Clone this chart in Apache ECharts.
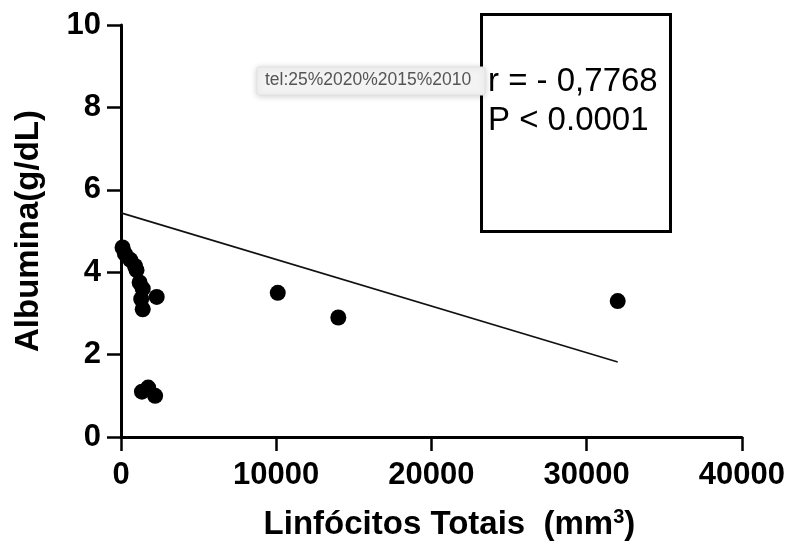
<!DOCTYPE html>
<html>
<head>
<meta charset="utf-8">
<script src="https://cdn.jsdelivr.net/npm/echarts@6/dist/echarts.min.js"></script>
<style>html,body{margin:0;padding:0;background:#fff}#c{width:788px;height:550px}</style>
</head>
<body>
<div id="c"></div>
<script>
// Data
var linfocitos = [100, 250, 600, 900, 1000, 1200, 1400, 2300, 1300, 1400, 1350, 1750, 2200, 10100, 14000, 32000];
var albumina   = [4.6, 4.45, 4.3, 4.15, 4.05, 3.75, 3.6, 3.4, 3.35, 3.1, 1.1, 1.2, 1.0, 3.5, 2.9, 3.3];
var fitX = [0, 32000];
var fitY = [5.44, 1.82];
var xTicks = [0, 10000, 20000, 30000, 40000];
var yTicks = [0, 2, 4, 6, 8, 10];
var statLines = ['r = - 0,7768', 'P < 0.0001'];
var popupText = 'tel:25%2020%2015%2010';

var FONT = "'Liberation Sans', Arial, Helvetica, sans-serif";
var chart = echarts.init(document.getElementById('c'), null, {renderer: 'canvas'});

var points = linfocitos.map(function (x, i) { return [x, albumina[i]]; });
var fit = fitX.map(function (x, i) { return [x, fitY[i]]; });

var axisCommon = {
  axisLine: {show: true, lineStyle: {color: '#000', width: 3}},
  axisTick: {show: true, length: 14, lineStyle: {color: '#000', width: 2.5}},
  splitLine: {show: false},
  axisLabel: {color: '#000', fontFamily: FONT, fontWeight: 'bold', fontSize: 31,
    formatter: function (v) { return String(v); }}
};

chart.setOption({
  animation: false,
  backgroundColor: '#fff',
  grid: {left: 121, right: 46, top: 25, bottom: 113, containLabel: false},
  xAxis: Object.assign({}, axisCommon, {
    type: 'value', min: xTicks[0], max: xTicks[xTicks.length - 1], interval: xTicks[1] - xTicks[0],
    axisLabel: Object.assign({}, axisCommon.axisLabel, {margin: 23}),
    name: 'Linfócitos Totais  (mm{sup|3})',
    nameLocation: 'middle', nameGap: 70,
    nameTextStyle: {
      color: '#000', fontFamily: FONT, fontWeight: 'bold', fontSize: 33,
      padding: [0, 0, 0, 36],
      rich: {sup: {fontSize: 20, fontWeight: 'bold', fontFamily: FONT, color: '#000', verticalAlign: 'top', padding: [0, 0, 16, 0]}}
    }
  }),
  yAxis: Object.assign({}, axisCommon, {
    type: 'value', min: yTicks[0], max: yTicks[yTicks.length - 1], interval: yTicks[1] - yTicks[0],
    axisLabel: Object.assign({}, axisCommon.axisLabel, {margin: 20}),
    name: 'Albumina(g/dL)',
    nameLocation: 'middle', nameGap: 76, nameRotate: 90,
    nameTextStyle: {color: '#000', fontFamily: FONT, fontWeight: 'bold', fontSize: 33}
  }),
  series: [
    {
      type: 'line', data: fit, symbol: 'none', silent: true,
      lineStyle: {color: '#111', width: 1.6}, z: 2
    },
    {
      type: 'scatter', data: points, symbol: 'circle', symbolSize: 16,
      itemStyle: {color: '#000', opacity: 1}, z: 3
    }
  ],
  graphic: [
    {
      type: 'rect', z: 10,
      shape: {x: 481.5, y: 14.5, width: 189, height: 217},
      style: {fill: '#fff', stroke: '#000', lineWidth: 3}
    },
    {
      type: 'text', z: 11, left: 488, top: 65,
      style: {text: statLines[0], fill: '#000', font: '33px ' + FONT}
    },
    {
      type: 'text', z: 11, left: 488, top: 104,
      style: {text: statLines[1], fill: '#000', font: '33px ' + FONT}
    },
    {
      type: 'rect', z: 20,
      shape: {x: 257, y: 67, width: 228, height: 28, r: 2},
      style: {fill: '#f3f3f3', stroke: '#e2e2e2', lineWidth: 1, shadowBlur: 6, shadowColor: 'rgba(0,0,0,0.18)', shadowOffsetY: 1}
    },
    {
      type: 'text', z: 21, left: 265, top: 71,
      style: {text: popupText, fill: '#555', font: '17.5px ' + FONT}
    }
  ]
});
</script>
</body>
</html>
